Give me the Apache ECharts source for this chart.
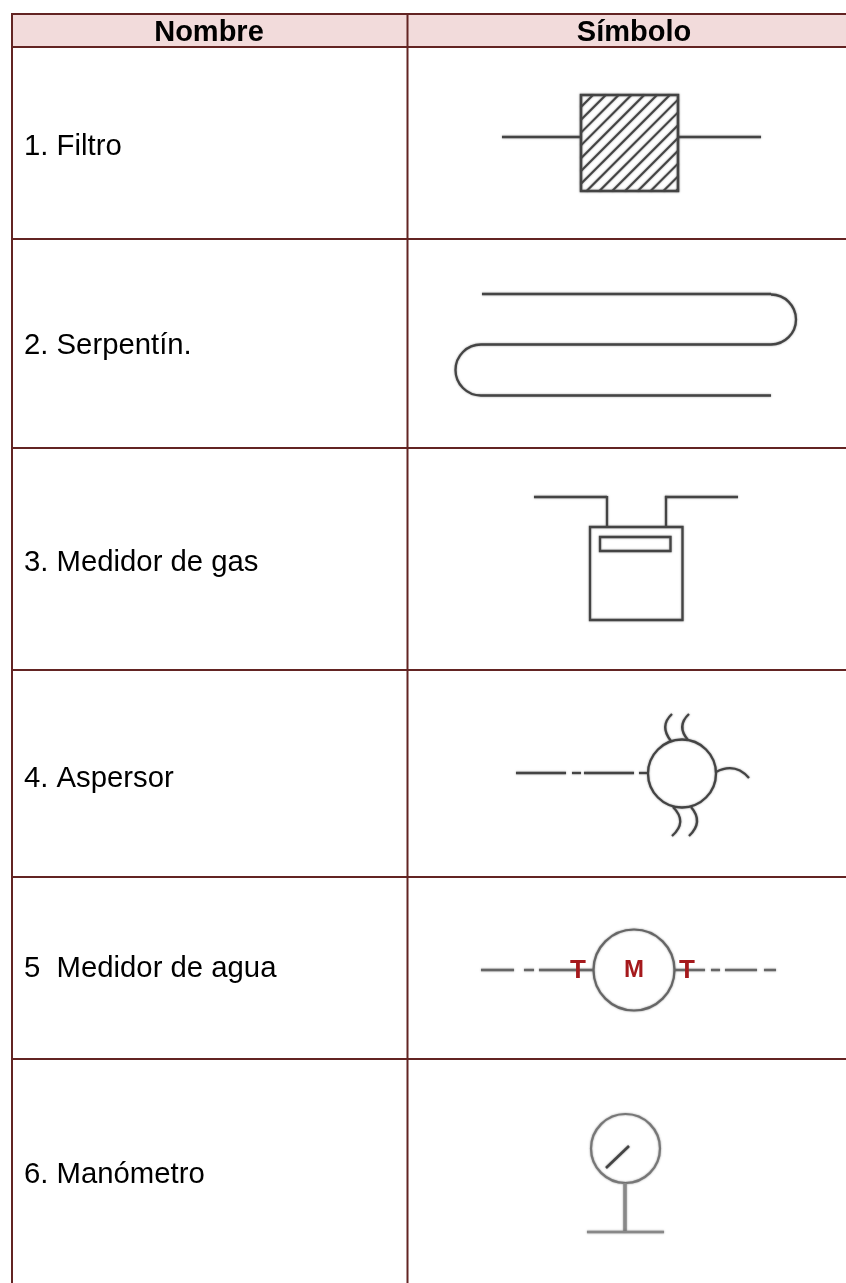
<!DOCTYPE html>
<html>
<head>
<meta charset="utf-8">
<style>html,body{margin:0;padding:0;background:#fff}#c{width:846px;height:1283px}</style>
<script src="https://cdn.jsdelivr.net/npm/echarts@6/dist/echarts.min.js"></script>
</head>
<body>
<div id="c"></div>
<script>
const headers = ['Nombre', 'Símbolo'];
const rowNames = ['1. Filtro', '2. Serpentín.', '3. Medidor de gas', '4. Aspersor', '5  Medidor de agua', '6. Manómetro'];
const meterLabels = ['T', 'M', 'T'];

const FONT = '"Liberation Sans", Arial, sans-serif';
const BORDER = '#632423', HEAD = '#f2dbdb';
const INK = '#444444', RED = '#a5191c';
const LW = 2.3;
const els = [];
const soft = {shadowBlur: 2, shadowColor: 'rgba(70,70,70,0.6)'};

function rect(x, y, w, h, fill, stroke, lw, z) {
  els.push({type: 'rect', z: z || 2, shape: {x, y, width: w, height: h},
    style: Object.assign({fill: fill || 'none', stroke: stroke || 'none', lineWidth: lw || 0}, stroke === INK ? soft : {})});
}
function line(x1, y1, x2, y2, c, lw, plain) {
  els.push({type: 'line', z: 3, shape: {x1, y1, x2, y2},
    style: Object.assign({stroke: c || INK, lineWidth: lw || LW, fill: 'none'}, plain ? {} : soft)});
}
function circle(cx, cy, r, c, lw) {
  els.push({type: 'circle', z: 3, shape: {cx, cy, r},
    style: Object.assign({stroke: c || INK, lineWidth: lw || LW, fill: 'none'}, soft)});
}
function arc(cx, cy, r, a0, a1, clockwise) {
  els.push({type: 'arc', z: 3, shape: {cx, cy, r, startAngle: a0, endAngle: a1, clockwise},
    style: Object.assign({stroke: INK, lineWidth: LW, fill: 'none'}, soft)});
}
function curve(x1, y1, cx, cy, x2, y2) {
  els.push({type: 'bezierCurve', z: 3, shape: {x1, y1, cpx1: cx, cpy1: cy, x2, y2},
    style: Object.assign({stroke: INK, lineWidth: LW, fill: 'none'}, soft)});
}
function text(s, x, y, size, weight, color, align) {
  els.push({type: 'text', z: 5, x, y, style: {text: s, fontFamily: FONT, fontSize: size, fontWeight: weight || 'normal',
    fill: color || '#000', align: align || 'left', verticalAlign: 'middle'}});
}

// table
rect(12, 14, 834, 33, HEAD);
const hLines = [14, 47, 239, 448, 670, 877, 1059];
hLines.forEach(y => line(11, y, 846, y, BORDER, 2, true));
line(12, 13, 12, 1283, BORDER, 2, true);
line(407.5, 13, 407.5, 1283, BORDER, 2, true);
text(headers[0], 209, 32.5, 29, 'bold', '#000', 'center');
text(headers[1], 634, 32.5, 29, 'bold', '#000', 'center');
const rowY = [147, 346, 563, 779, 969, 1175];
rowNames.forEach((s, i) => text(s, 24, rowY[i], 29.3));

// 1 filter
rect(581, 95, 97, 96, '#fff', INK, 2.6);
line(502, 137, 581, 137); line(678, 137, 761, 137);
for (let d = 12; d < 193; d += 12.8) {
  // 45-degree hatch clipped to the square
  const x0 = 581, y0 = 95, w = 97, h = 96;
  const xa = x0 + Math.max(0, d - h), ya = y0 + Math.min(d, h);
  const xb = x0 + Math.min(d, w), yb = y0 + Math.max(0, d - w);
  line(xa, ya, xb, yb, INK, 2);
}

// 2 coil
line(482, 294, 771, 294);
arc(771, 319.5, 25, -Math.PI / 2, Math.PI / 2, true);
line(771, 344.5, 481, 344.5);
arc(481, 370, 25.5, -Math.PI / 2, Math.PI / 2, false);
line(481, 395.5, 771, 395.5, INK, 2.6);

// 3 gas meter
line(534, 497, 607, 497); line(607, 496, 607, 527);
line(666, 527, 666, 496); line(665, 497, 738, 497);
rect(590, 527, 92.5, 93, 'none', INK, 2.3);
rect(600, 537, 70.5, 14, 'none', INK, 2.3);

// 4 sprinkler
circle(682, 773.5, 34);
[[516, 566], [572, 581], [584, 634], [639, 647]].forEach(d => line(d[0], 773, d[1], 773));
curve(671, 741, 659, 726, 672, 714);
curve(688, 740, 676, 726, 689, 714);
curve(673, 807, 688, 822, 672, 836);
curve(691, 807, 704, 822, 689, 836);
curve(716, 772, 735, 762, 749, 778);

// 5 water meter
circle(634, 970, 40.5, '#666', 2.2);
[[481, 514], [524, 534], [539, 593], [674, 705], [711, 720], [725, 757], [764, 776]].forEach(d => line(d[0], 970, d[1], 970, '#666', 2.4));
text(meterLabels[0], 578, 971, 26, 'bold', RED, 'center');
text(meterLabels[1], 634, 970.5, 24, 'bold', RED, 'center');
text(meterLabels[2], 687, 971, 26, 'bold', RED, 'center');

// 6 pressure gauge
circle(625.5, 1148.5, 34.5, '#777', 2.2);
line(606, 1168, 629, 1146, '#444', 2.6);
line(625, 1183, 625, 1232, '#888', 3.4);
line(587, 1232, 664, 1232, '#888', 2.6);

const chart = echarts.init(document.getElementById('c'), null, {renderer: 'canvas', width: 846, height: 1283});
chart.setOption({animation: false, backgroundColor: '#fff', graphic: {elements: els}});
</script>
</body>
</html>
